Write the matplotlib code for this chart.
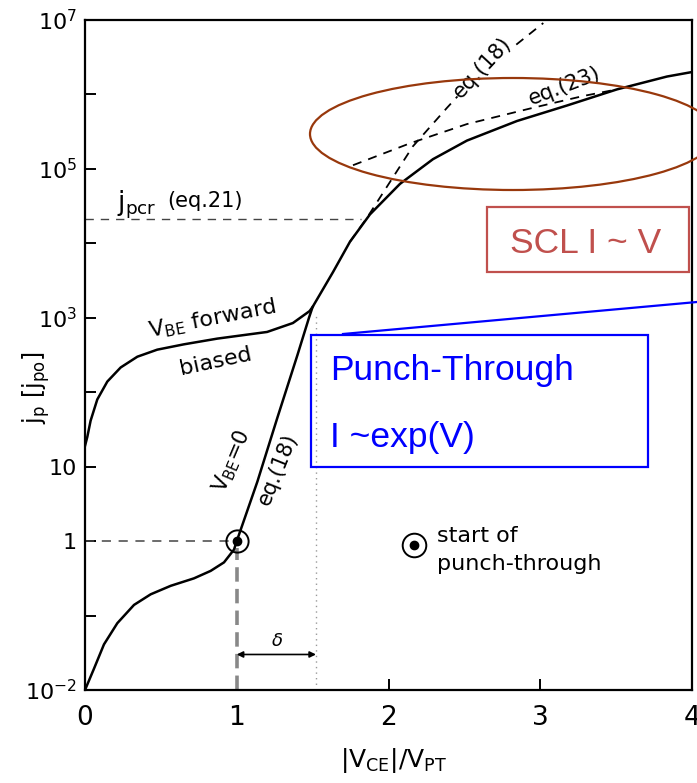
import numpy as np
import matplotlib.pyplot as plt
from matplotlib.patches import Ellipse, Rectangle
from matplotlib.lines import Line2D

W, H = 697, 783

# V_BE = 0 curve (solid)
vbe0_x = [0.0, 0.059, 0.125, 0.213, 0.323, 0.433, 0.565, 0.718, 0.828,
          0.916, 0.982, 1.0, 1.136, 1.267, 1.40, 1.476, 1.50,
          1.634, 1.746, 1.878, 2.076, 2.293, 2.517, 2.847, 3.176, 3.506,
          3.835, 4.0]
vbe0_j = [0.01, 0.0193, 0.041, 0.079, 0.139, 0.193, 0.251, 0.316, 0.398,
          0.518, 0.77, 1.0, 6.3, 45, 316, 1000, 1400,
          4.1e3, 1.05e4, 2.45e4, 6.3e4, 1.35e5, 2.4e5, 4.4e5, 7.1e5,
          1.17e6, 1.74e6, 2.0e6]

# V_BE forward biased curve (solid)
fwd_x = [0.0, 0.015, 0.037, 0.081, 0.147, 0.235, 0.345, 0.476, 0.652,
         0.872, 1.20, 1.37, 1.48, 1.50]
fwd_j = [19, 25, 41.5, 80, 139, 215, 300, 373, 440, 525, 645, 850,
         1230, 1400]

# eq.(18) extrapolation (dashed)
eq18_x = [1.746, 1.858, 2.16, 2.385, 2.616, 2.82, 3.02]
eq18_j = [1.05e4, 2.2e4, 2.0e5, 6.6e5, 2.14e6, 4.3e6, 9.1e6]

# eq.(23) (dashed)
eq23_x = [1.766, 2.14, 2.517, 2.95, 3.28, 3.506]
eq23_j = [1.12e5, 2.2e5, 4.0e5, 6.6e5, 9.5e5, 1.17e6]

J_PCR = 2.1e4
X_PCR_END = 1.82
V_START = 1.0          # start of punch-through, |V_CE|/V_PT
J_START = 1.0
V_DELTA = 1.522        # end of delta interval
J_ARROW = 0.03

y_ticks = [1e-2, 1e-1, 1, 10, 1e2, 1e3, 1e4, 1e5, 1e6, 1e7]
y_labels = [r'$10^{-2}$', '', '1', '10', '', r'$10^{3}$', '',
            r'$10^{5}$', '', r'$10^{7}$']
x_ticks = [0, 1, 2, 3, 4]
x_labels = ['0', '1', '2', '3', '4']

plt.rcParams['font.family'] = 'DejaVu Sans'
plt.rcParams['mathtext.fontset'] = 'dejavusans'

fig = plt.figure(figsize=(W / 100, H / 100), dpi=100)
ax = fig.add_axes([85 / W, 1 - 690 / H, (692 - 85) / W, 670 / H])
ax.set_yscale('log')
ax.set_xlim(0, 4)
ax.set_ylim(1e-2, 1e7)

ax.plot(vbe0_x, vbe0_j, color='black', lw=1.8, zorder=3)
ax.plot(fwd_x, fwd_j, color='black', lw=1.8, zorder=3)
ax.plot(eq18_x, eq18_j, color='black', lw=1.3, ls=(0, (5, 4)), zorder=3)
ax.plot(eq23_x, eq23_j, color='black', lw=1.3, ls=(0, (5, 4)), zorder=3)

# reference lines
ax.plot([0, X_PCR_END], [J_PCR, J_PCR], color='#444444', lw=1.0,
        ls=(0, (6, 5)))
ax.plot([0, 0.955], [J_START, J_START], color='#444444', lw=1.1,
        ls=(0, (6, 5)))
ax.plot([V_START, V_START], [1e-2, 0.8], color='#888888', lw=2.6,
        ls=(0, (4, 2)))
ax.plot([V_DELTA, V_DELTA], [1e-2, 1.1e3], color='#999999', lw=1.0,
        ls=(0, (1, 3)))

ax.annotate('', xy=(V_START, J_ARROW), xytext=(V_DELTA, J_ARROW),
            arrowprops=dict(arrowstyle='<|-|>', color='black', lw=1.2,
                            mutation_scale=9, shrinkA=0, shrinkB=0))
ax.text(1.265, 0.046, r'$\delta$', fontsize=13, ha='center', va='center')

# start of punch-through marker
ax.plot([V_START], [J_START], 'o', ms=16, mfc='none', mec='black', mew=1.4,
        zorder=4)
ax.plot([V_START], [J_START], 'o', ms=6, color='black', zorder=4)
ax.plot([2.17], [0.9], 'o', ms=17, mfc='none', mec='black', mew=1.4)
ax.plot([2.17], [0.9], 'o', ms=6, color='black')
ax.text(2.32, 1.17, 'start of', fontsize=16, ha='left', va='center')
ax.text(2.32, 0.5, 'punch-through', fontsize=16, ha='left', va='center')

# curve labels
ax.text(0.84, 950, r'$\mathregular{V_{BE}}$ forward', fontsize=16,
        rotation=11, rotation_mode='anchor', ha='center', va='center')
ax.text(0.86, 260, 'biased', fontsize=16, rotation=12,
        rotation_mode='anchor', ha='center', va='center')
ax.text(0.97, 12, r'$\mathregular{V_{BE}}$=0', fontsize=15, rotation=67,
        rotation_mode='anchor', ha='center', va='center')
ax.text(1.27, 9.3, 'eq.(18)', fontsize=15, rotation=68,
        rotation_mode='anchor', ha='center', va='center')
ax.text(2.62, 2.3e6, 'eq.(18)', fontsize=15, rotation=47,
        rotation_mode='anchor', ha='center', va='center', zorder=5,
        bbox=dict(fc='white', ec='none', pad=0.5))
ax.text(3.16, 1.3e6, 'eq.(23)', fontsize=15, rotation=21,
        rotation_mode='anchor', ha='center', va='center')
ax.text(0.21, 3.3e4, r'$\mathregular{j_{pcr}}$', fontsize=19, ha='left',
        va='center')
ax.text(0.54, 3.7e4, '(eq.21)', fontsize=15, ha='left', va='center')

# axes styling
ax.set_yticks(y_ticks)
ax.set_yticklabels(y_labels)
ax.minorticks_off()
ax.set_xticks(x_ticks)
ax.set_xticklabels(x_labels)
ax.tick_params(axis='y', direction='in', length=8, width=1.4, pad=6,
               labelsize=16)
ax.tick_params(axis='x', direction='in', length=8, width=1.4, pad=11,
               labelsize=19)
for sp in ax.spines.values():
    sp.set_linewidth(1.6)

ax.set_xlabel(r'$\mathregular{|V_{CE}|/V_{PT}}$', fontsize=18)
ax.xaxis.set_label_coords(0.509, -0.083)
ax.set_ylabel(r'$\mathregular{j_p\ [j_{po}]}$', fontsize=17)
ax.yaxis.set_label_coords(-0.055, 0.451)


def fig_px(x, y):
    return x / W, 1 - y / H


# overlay annotations (figure pixel positions)
fig.add_artist(Ellipse(fig_px(513, 134), 406 / W, 112 / H,
                       transform=fig.transFigure, fill=False,
                       ec='#98380C', lw=1.6))

fig.add_artist(Rectangle(fig_px(487, 272), 202 / W, 65 / H,
                         transform=fig.transFigure, fill=False,
                         ec='#C0504D', lw=1.6))
fig.text(*fig_px(586, 253), 'SCL I ~ V', color='#C0504D', fontsize=25.5,
         family='Liberation Sans', ha='center', va='baseline')

fig.add_artist(Rectangle(fig_px(311, 467), 337 / W, 132 / H,
                         transform=fig.transFigure, fill=False,
                         ec='#0000FF', lw=1.6))
fig.add_artist(Line2D([343 / W, 1.0], [1 - 334 / H, 1 - 302 / H],
                      transform=fig.transFigure, color='#0000FF', lw=1.6))
fig.text(*fig_px(330, 380), 'Punch-Through', color='#0000FF', fontsize=25.5,
         family='Liberation Sans', ha='left', va='baseline')
fig.text(*fig_px(330, 447), 'I ~exp(V)', color='#0000FF', fontsize=25.5,
         family='Liberation Sans', ha='left', va='baseline')

fig.savefig('out.png', dpi=100)
